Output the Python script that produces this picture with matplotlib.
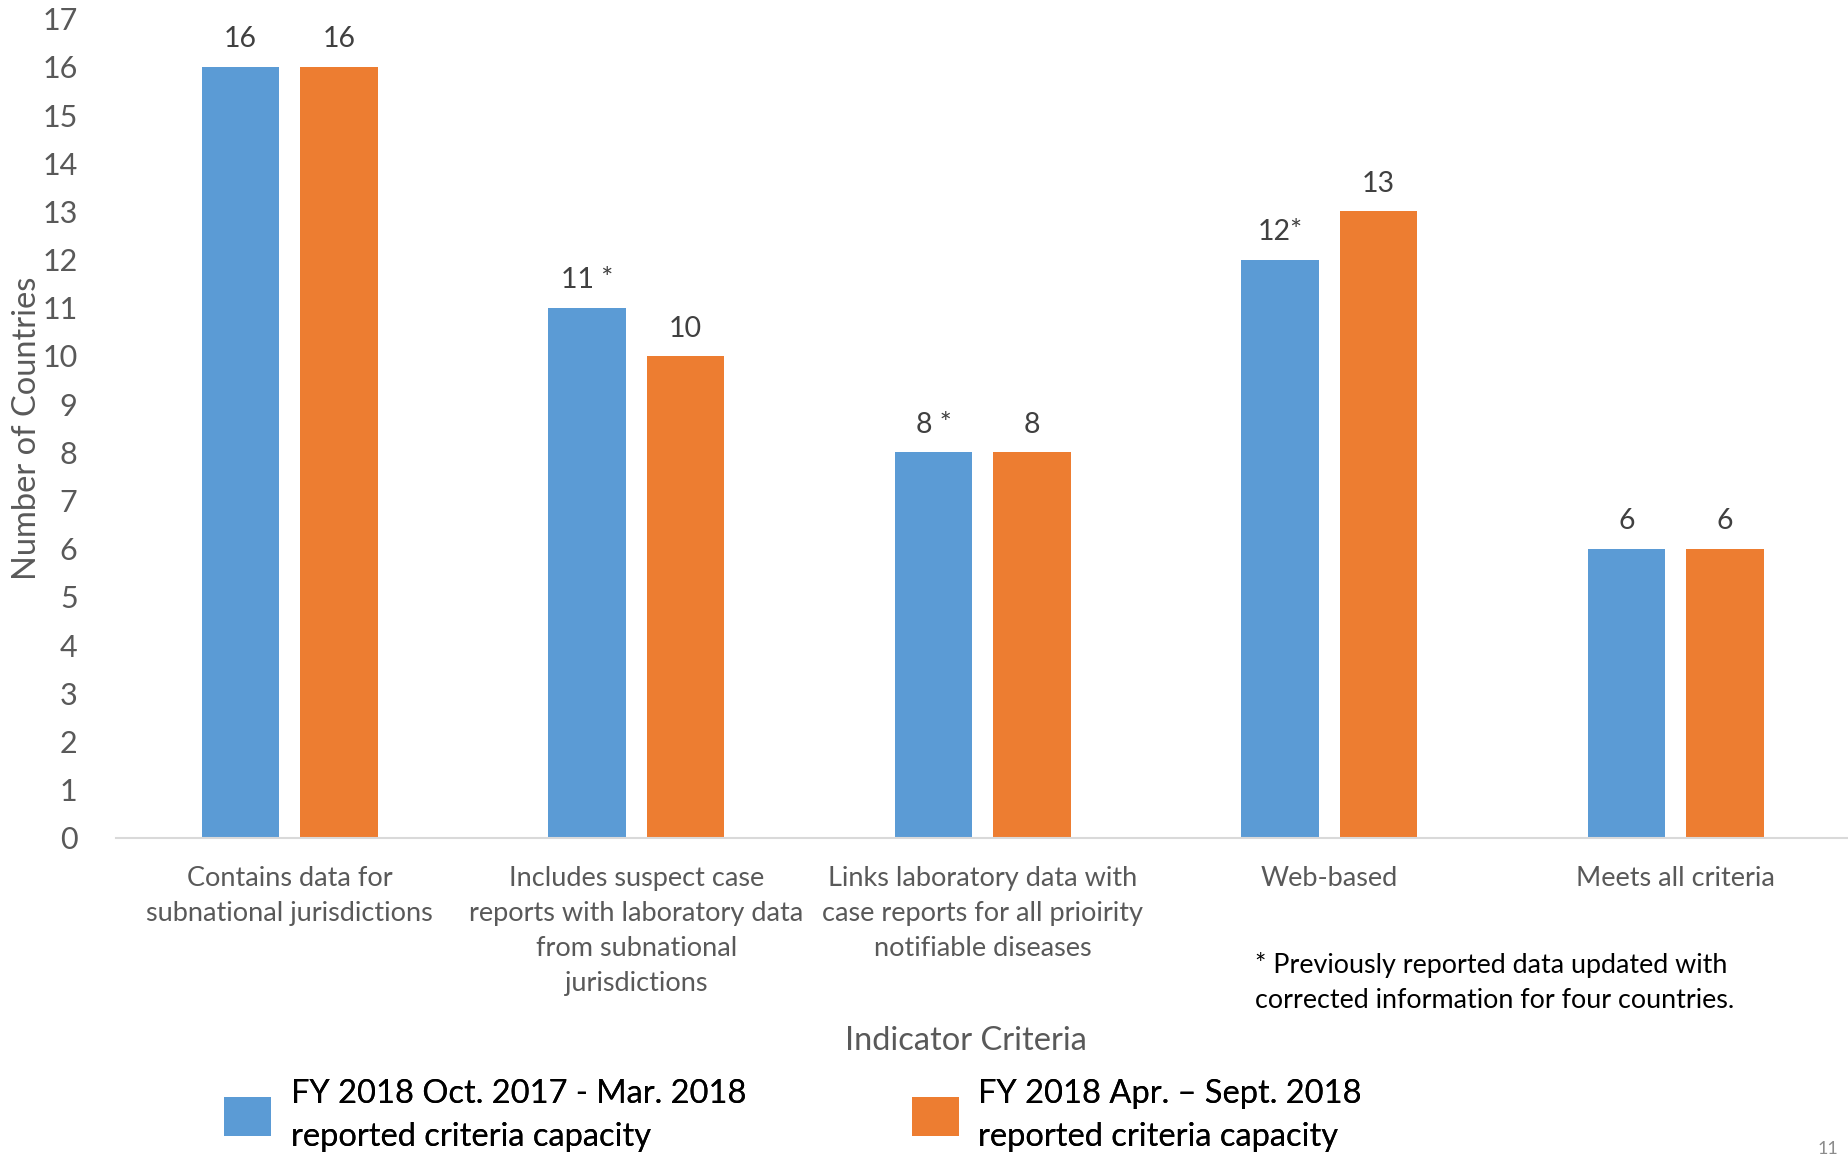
import matplotlib
matplotlib.use("Agg")
import matplotlib.pyplot as plt
import numpy as np

plt.rcParams['font.family'] = ['Lato', 'DejaVu Sans']

categories = ["Contains data for\nsubnational jurisdictions",
              "Includes suspect case\nreports with laboratory data\nfrom subnational\njurisdictions",
              "Links laboratory data with\ncase reports for all prioirity\nnotifiable diseases",
              "Web-based",
              "Meets all criteria"]
series1_name = "FY 2018 Oct. 2017 - Mar. 2018\nreported criteria capacity"
series2_name = "FY 2018 Apr. \u2013 Sept. 2018\nreported criteria capacity"
series1 = [16, 11, 8, 12, 6]
series2 = [16, 10, 8, 13, 6]
labels1 = ["16", "11 *", "8 *", "12*", "6"]
labels2 = ["16", "10", "8", "13", "6"]
yticks = list(range(0, 18))

blue = "#5B9BD5"
orange = "#ED7D31"
gray = "#595959"

fig = plt.figure(figsize=(18.49, 11.63), dpi=100)
ax = fig.add_axes([0.063, 0.2795, 0.937, 0.7045])

x = np.arange(len(categories))
w = 0.224
off = 0.142
b1 = ax.bar(x - off, series1, w, color=blue, label=series1_name)
b2 = ax.bar(x + off, series2, w, color=orange, label=series2_name)

for rect, lab in zip(b1, labels1):
    ax.text(rect.get_x() + rect.get_width() / 2, rect.get_height() + 0.3, lab,
            ha='center', va='bottom', fontsize=20.5, color="#404040")
for rect, lab in zip(b2, labels2):
    ax.text(rect.get_x() + rect.get_width() / 2, rect.get_height() + 0.3, lab,
            ha='center', va='bottom', fontsize=20.5, color="#404040")

ax.set_xlim(-0.5, len(categories) - 0.5)
ax.set_ylim(0, 17)
ax.set_yticks(yticks)
ax.set_xticks(x)
ax.set_xticklabels(categories, fontsize=19.5, color=gray, linespacing=1.5, va='top')
ax.tick_params(axis='both', length=0, labelsize=22, colors=gray)
ax.tick_params(axis='x', pad=20, labelsize=19.5)
ax.tick_params(axis='y', pad=28)
for s in ['top', 'right', 'left']:
    ax.spines[s].set_visible(False)
ax.spines['bottom'].set_color('#D9D9D9')
ax.spines['bottom'].set_linewidth(1.5)

ax.set_ylabel("Number of Countries", fontsize=23.5, color=gray)
ax.yaxis.set_label_coords(-0.043, 0.5)

fig.text(0.5225, 0.105, "Indicator Criteria", fontsize=23.5, color=gray, ha='center', va='center')
fig.text(0.679, 0.181, "* Previously reported data updated with\ncorrected information for four countries.",
         fontsize=19.4, color='black', ha='left', va='top', linespacing=1.5)

legs = []
for bars, name, xa in [(b1, series1_name, 0.121), (b2, series2_name, 0.493)]:
    lg = fig.legend(handles=[bars], labels=[name], loc='center left',
                    bbox_to_anchor=(xa, 0.041), frameon=False, fontsize=23.5,
                    handlelength=1.45, handleheight=1.45, handletextpad=0.6,
                    borderaxespad=0, borderpad=0)
    for t in lg.get_texts():
        t.set_linespacing(1.55)
    fig.add_artist(lg)
    legs.append(lg)

fig.text(0.9885, 0.005, "11", fontsize=13, color="#8C8C8C", ha='center', va='bottom')

fig.savefig("out.png", dpi=100)
